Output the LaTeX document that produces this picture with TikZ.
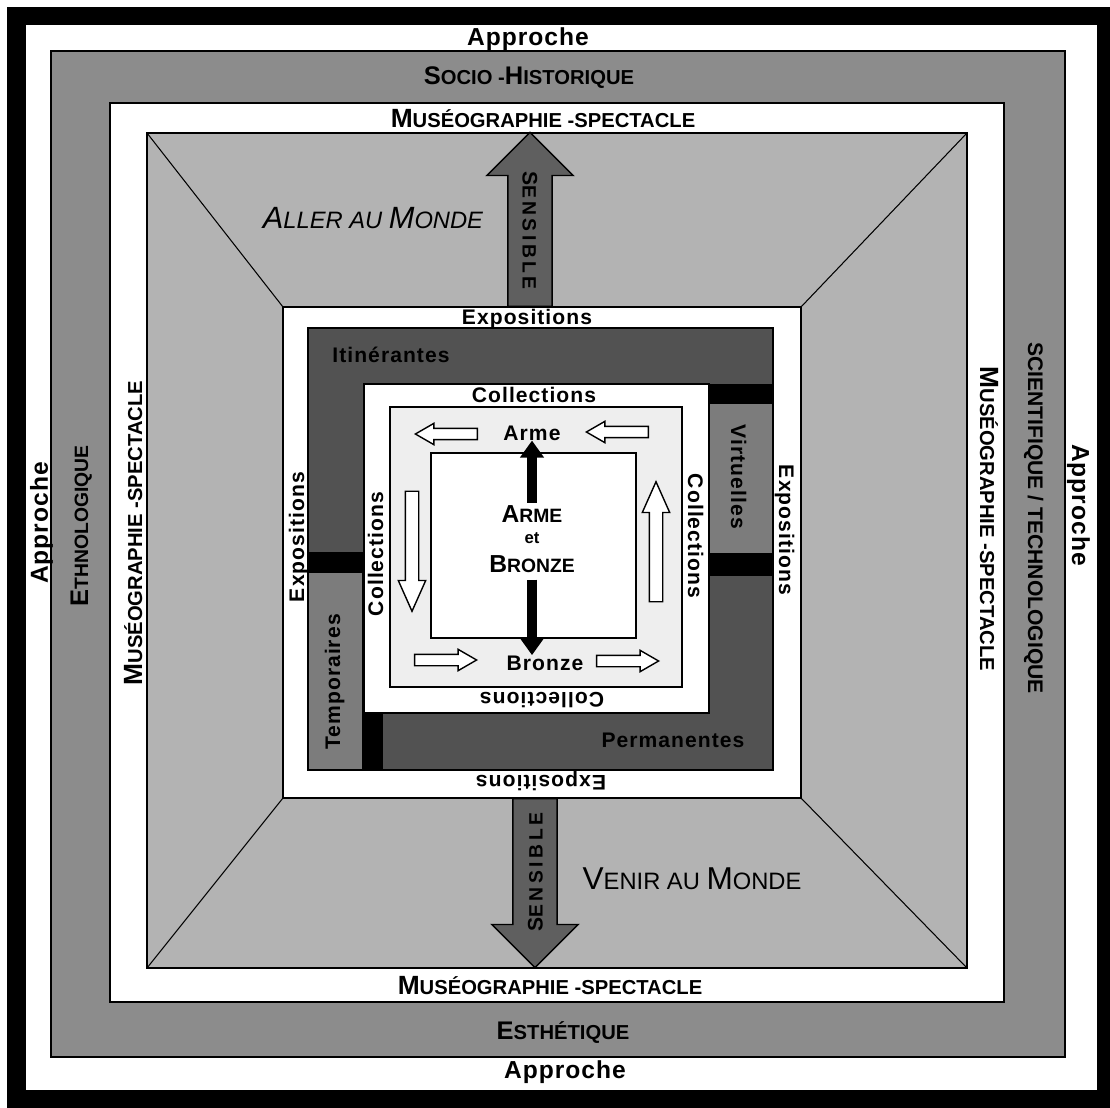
\documentclass[tikz,border=0pt]{standalone}
\usepackage{fontspec}
\setmainfont{Liberation Sans}
\usetikzlibrary{shapes.arrows,arrows.meta}
\definecolor{bandGray}{RGB}{140,140,140}
\definecolor{wallGray}{RGB}{179,179,179}
\definecolor{expoDark}{RGB}{82,82,82}
\definecolor{expoMid}{RGB}{124,124,124}
\definecolor{collLight}{RGB}{238,238,238}
\definecolor{senseGray}{RGB}{95,95,95}
\newcommand{\fs}[1]{\fontsize{#1}{#1}\selectfont}
\newcommand{\lo}[2]{{\fs{#1}#2}}
\newcommand{\spc}[1]{\addfontfeature{LetterSpace=#1}}

\begin{document}
\begin{tikzpicture}[x=0.02cm, y=-0.02cm,
    box/.style={draw=black, semithick},
    lbl/.style={inner sep=0pt, anchor=base, font=\bfseries\fs{12}\spc{5}},
    sideup/.style={rotate=90},
    sidedown/.style={rotate=-90},
    upside/.style={rotate=180},
    flow/.style={single arrow, draw=black, thick, fill=white, inner sep=0pt, text depth=0pt, anchor=tip},
    flowh/.style={flow, text height=0.2cm, single arrow head extend=0.1cm, single arrow tip angle=60, minimum height=1.24cm},
    flowv/.style={flow, text height=0.24cm, single arrow head extend=0.14cm, single arrow tip angle=48, minimum height=2.4cm},
    sense/.style={single arrow, draw=black, thick, fill=senseGray, inner xsep=0pt, inner ysep=0.28cm,
      text height=0.3cm, text depth=0pt, single arrow head extend=0.42cm, shape border rotate=180, anchor=tail,
      font=\bfseries\fs{12}\spc{18}},
    pointer/.style={line width=0.2cm, -{Triangle[length=0.34cm, width=0.46cm]}}]
  \useasboundingbox (0,0) rectangle (1110,1108);
  \fill (7,7) rectangle (1110,1108);
  \fill[white] (26,25) rectangle (1097,1090);

  \draw[box, fill=bandGray] (51,51) rectangle (1065,1057);
  \draw[box, fill=white] (110,103) rectangle (1004,1002);
  \draw[box, fill=wallGray] (147,133) rectangle (967,968);
  \coordinate (wallNW) at (147,133);
  \coordinate (wallNE) at (967,133);
  \coordinate (wallSW) at (147,968);
  \coordinate (wallSE) at (967,968);
  \coordinate (expoNW) at (283,307);
  \coordinate (expoNE) at (801,307);
  \coordinate (expoSW) at (283,798);
  \coordinate (expoSE) at (801,798);
  \draw[semithick] (wallNW) -- (expoNW) (wallNE) -- (expoNE) (wallSW) -- (expoSW) (wallSE) -- (expoSE);

  \draw[box, fill=white] (expoNW) rectangle (expoSE);
  \draw[box, fill=expoDark] (308,328) rectangle (773,770);
  \draw[box, fill=expoMid] (709,403) rectangle (773,554);
  \draw[box, fill=expoMid] (308,572) rectangle (363,770);
  \fill (709,384) rectangle (773,403);
  \fill (709,554) rectangle (773,576);
  \fill (308,552) rectangle (364,572);
  \fill (363,713) rectangle (383,770);
  \draw[box, fill=white] (364,384) rectangle (709,713);
  \draw[box, fill=collLight] (390,407) rectangle (682,687);
  \draw[box, fill=white] (431,453) rectangle (636,638);

  \node[sense, rotate=-90, minimum height=3.48cm] (senseTop) at (530,307) {S\lo{11}{ENSIBLE}};
  \node[sense, rotate=90, minimum height=3.38cm] (senseBot) at (535,798) {S\lo{11}{ENSIBLE}};

  \node[flowh, rotate=180] (flowTL) at (414,434) {};
  \node[flowh, rotate=180] (flowTR) at (585,432) {};
  \node[flowh] (flowBL) at (478,660) {};
  \node[flowh] (flowBR) at (660,661) {};
  \node[flowv, rotate=-90] (flowL) at (412,613) {};
  \node[flowv, rotate=90] (flowR) at (656,480) {};

  \node[lbl, font=\bfseries\fs{14}\spc{4}] (apprTop) at (528,46) {Approche};
  \node[lbl, font=\bfseries\fs{14}\spc{4}] (apprBot) at (565,1078) {Approche};
  \node[lbl, sideup, font=\bfseries\fs{14}\spc{4}] (apprLeft) at (48,523) {Approche};
  \node[lbl, sidedown, font=\bfseries\fs{14}\spc{4}] (apprRight) at (1072,505) {Approche};
  \node[lbl, font=\bfseries\fs{14.5}] (socio) at (529,85) {S\lo{11.5}{OCIO -}H\lo{11.5}{ISTORIQUE}};
  \node[lbl, sideup, font=\bfseries\fs{14.5}] (ethno) at (88,526) {E\lo{11}{THNOLOGIQUE}};
  \node[lbl, sidedown, font=\bfseries\fs{12}] (scien) at (1028,518) {SCIENTIFIQUE / TECHNOLOGIQUE};
  \node[lbl, font=\bfseries\fs{14.5}] (esth) at (563,1039) {E\lo{11.5}{STHÉTIQUE}};
  \node[lbl, font=\bfseries\fs{15}] (museoTop) at (543,128) {M\lo{11.5}{USÉOGRAPHIE -SPECTACLE}};
  \node[lbl, font=\bfseries\fs{15}] (museoBot) at (550,994) {M\lo{11.5}{USÉOGRAPHIE -SPECTACLE}};
  \node[lbl, sideup, font=\bfseries\fs{15}] (museoLeft) at (142,533) {M\lo{11.5}{USÉOGRAPHIE -SPECTACLE}};
  \node[lbl, sidedown, font=\bfseries\fs{15}] (museoRight) at (980,519) {M\lo{11.5}{USÉOGRAPHIE -SPECTACLE}};
  \node[lbl, font=\itshape\fs{17.5}] (aller) at (373,229) {A\lo{13.5}{LLER AU }M\lo{13.5}{ONDE}};
  \node[lbl, font=\fs{18}] (venir) at (692,889) {V\lo{13.5}{ENIR AU }M\lo{13.5}{ONDE}};

  \node[lbl] (expoTop) at (527,325) {Expositions};
  \node[lbl, sideup] (expoLeft) at (304,537) {Expositions};
  \node[lbl, sidedown] (expoRight) at (779,530) {Expositions};
  \node[lbl, upside] (expoBot) at (541,775) {Expositions};
  \node[lbl] (itin) at (391,363) {Itinérantes};
  \node[lbl] (perm) at (673,747) {Permanentes};
  \node[lbl, sidedown] (virt) at (731,477) {Virtuelles};
  \node[lbl, sideup] (temp) at (340,682) {Temporaires};
  \node[lbl] (collTop) at (534,403) {Collections};
  \node[lbl, sideup] (collLeft) at (383,554) {Collections};
  \node[lbl, sidedown] (collRight) at (688,536) {Collections};
  \node[lbl, upside] (collBot) at (542,692) {Collections};

  \node[lbl] (arme) at (532,440) {Arme};
  \node[lbl] (bronze) at (545,670) {Bronze};
  \node[lbl, font=\bfseries\fs{14}, inner ysep=1pt] (armeBig) at (532,522) {A\lo{11}{RME}};
  \node[lbl, font=\bfseries\fs{9.5}] (etWord) at (532,543) {et};
  \node[lbl, font=\bfseries\fs{14}, inner ysep=4pt] (bronzeBig) at (532,572) {B\lo{11}{RONZE}};
  \draw[pointer] (armeBig.north) -- (arme.south);
  \draw[pointer] (bronzeBig.south) -- (bronze.north -| bronzeBig.south);
\end{tikzpicture}
\end{document}
